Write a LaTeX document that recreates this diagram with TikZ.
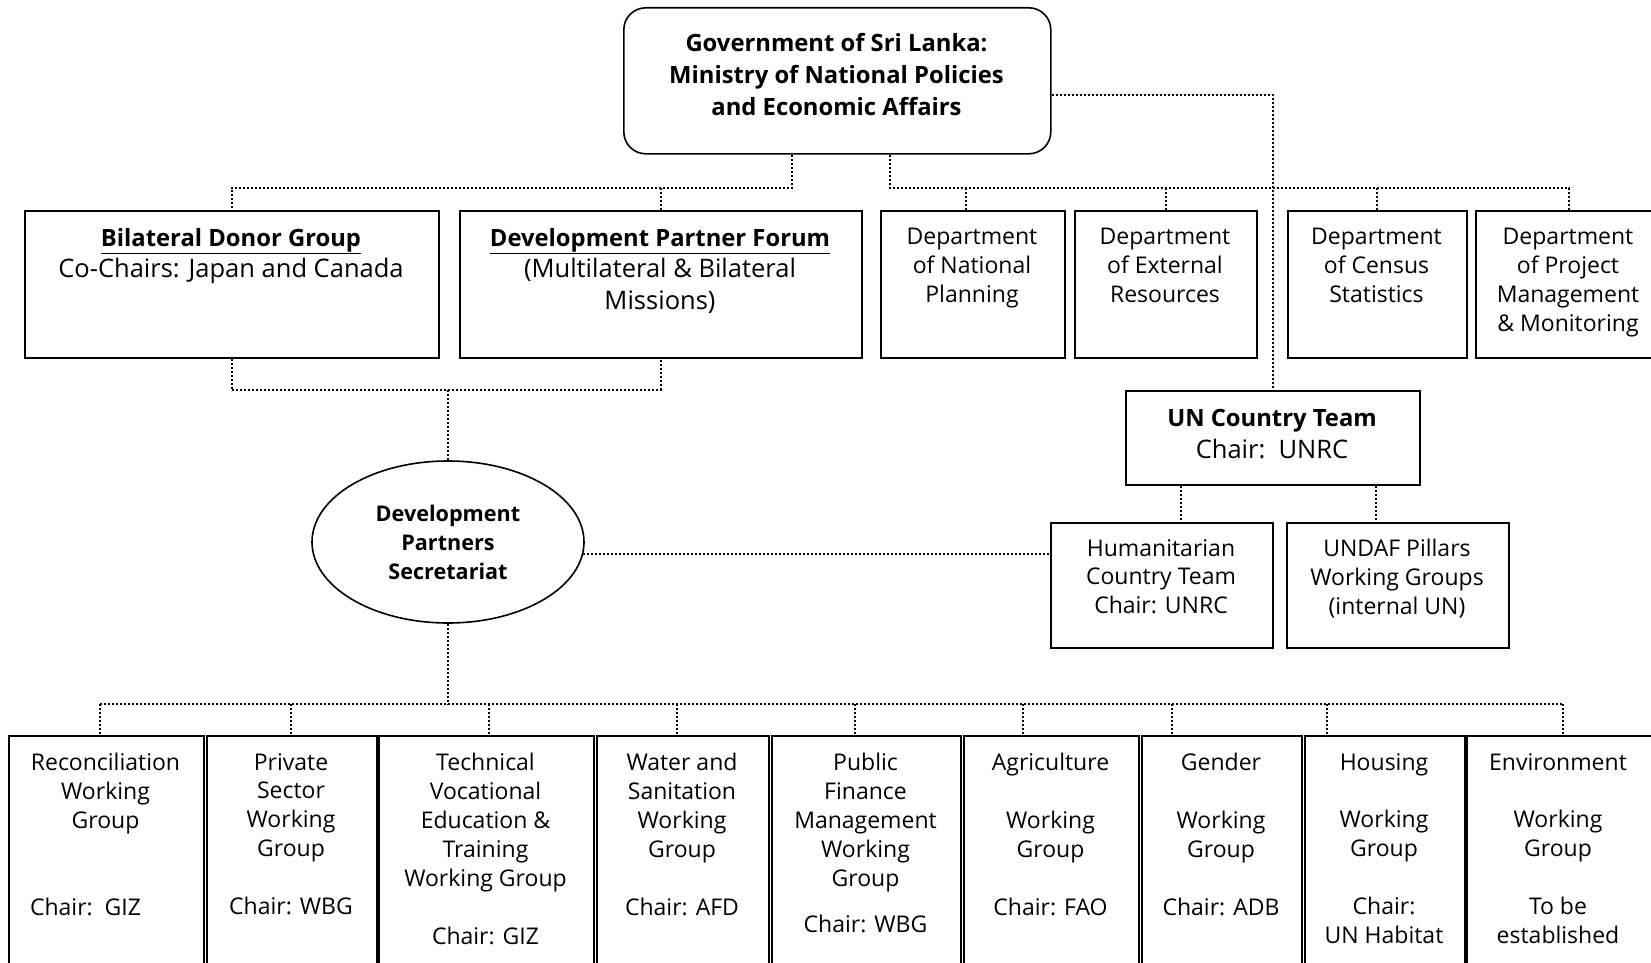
\documentclass[tikz,border=0pt]{standalone}
\usepackage{fontspec}
\setmainfont{Open Sans}
\usetikzlibrary{shapes.geometric}
\newcommand{\ttl}[1]{{\fontsize{23.8}{31.6}\selectfont\bfseries #1}}
\begin{document}
\begin{tikzpicture}[x=1pt,y=-1pt,
  box/.style={draw, line width=1.6pt, inner sep=0pt, anchor=north west},
  conn/.style={line width=2pt, dash pattern=on 2pt off 2pt},
  txt/.style={inner sep=0pt, align=center, anchor=north, font=\fontsize{23}{28.9}\selectfont, execute at begin node=\strut},
  big/.style={font=\fontsize{25.5}{31.6}\selectfont},
  bigb/.style={font=\fontsize{23.8}{32}\selectfont\bfseries},
]
\useasboundingbox (0,0) rectangle (1651,963);

% top
\node[box, rounded corners=22pt, minimum width=427pt, minimum height=146pt] (gov) at (623,7) {};
\node[txt, bigb] (govt) at (836.5,33) {Government of Sri Lanka:\\Ministry of National Policies\\and Economic Affairs};

% row 2
\node[box, minimum width=414pt, minimum height=147pt] (bdg) at (24,210) {};
\node[box, minimum width=402pt, minimum height=147pt] (dpf) at (459,210) {};
\node[box, minimum width=184pt, minimum height=147pt] (dnp) at (880,210) {};
\node[box, minimum width=182pt, minimum height=147pt] (der) at (1074,210) {};
\node[box, minimum width=179pt, minimum height=147pt] (dcs) at (1287,210) {};
\node[box, minimum width=186pt, minimum height=147pt] (dpm) at (1475,210) {};
\node[txt, big] (bdgt) at (231,228) {\underline{\ttl{Bilateral Donor Group}}\\Co-Chairs: Japan and Canada};
\node[txt, big] (dpft) at (660,228) {\underline{\ttl{Development Partner Forum}}\\(Multilateral \& Bilateral\\Missions)};
\node[txt] (dnpt) at (972,228) {Department\\of National\\Planning};
\node[txt] (dert) at (1165,228) {Department\\of External\\Resources};
\node[txt] (dcst) at (1376.5,228) {Department\\of Census\\Statistics};
\node[txt] (dpmt) at (1568,228) {Department\\of Project\\Management\\\& Monitoring};

% UN
\node[box, minimum width=294pt, minimum height=94pt] (unct) at (1125,390) {};
\node[txt, big] (unctt) at (1272,409) {\ttl{UN Country Team}\\Chair:\ \ UNRC};
\node[box, minimum width=222pt, minimum height=125pt] (hct) at (1050,522) {};
\node[box, minimum width=222pt, minimum height=125pt] (undaf) at (1286,522) {};
\node[txt] (hctt) at (1161,539) {Humanitarian\\Country Team\\Chair: UNRC};
\node[txt] (undaft) at (1397,539) {UNDAF Pillars\\Working Groups\\(internal UN)};

% ellipse
\node[draw, ellipse, line width=1.6pt, minimum width=272pt, minimum height=162pt, inner sep=0pt, align=center, font=\fontsize{21.6}{29}\selectfont\bfseries] (dps) at (448,542) {Development\\Partners\\Secretariat};

% bottom boxes
\node[box, minimum width=195pt, minimum height=240pt] (w1) at (8,735) {};
\node[box, minimum width=170pt, minimum height=240pt] (w2) at (206,735) {};
\node[box, minimum width=215pt, minimum height=240pt] (w3) at (378,735) {};
\node[box, minimum width=172pt, minimum height=240pt] (w4) at (596,735) {};
\node[box, minimum width=189pt, minimum height=240pt] (w5) at (771,735) {};
\node[box, minimum width=175pt, minimum height=240pt] (w6) at (963,735) {};
\node[box, minimum width=160pt, minimum height=240pt] (w7) at (1141,735) {};
\node[box, minimum width=160pt, minimum height=240pt] (w8) at (1304,735) {};
\node[box, minimum width=190pt, minimum height=240pt] (w9) at (1466,735) {};

\node[txt] (t1) at (105.5,753) {Reconciliation\\Working\\Group\\~\\~\\Chair:\ \ GIZ\hspace*{40pt}};
\node[txt] (t2) at (291,753) {Private\\Sector\\Working\\Group\\~\\Chair: WBG};
\node[txt] (t3) at (485.5,753) {Technical\\Vocational\\Education \&\\Training\\Working Group\\~\\Chair: GIZ};
\node[txt] (t4) at (682,753) {Water and\\Sanitation\\Working\\Group\\~\\Chair: AFD};
\node[txt] (t5) at (865.5,753) {Public\\Finance\\Management\\Working\\Group\\[17pt]Chair: WBG};
\node[txt] (t6) at (1050.5,753) {Agriculture\\~\\Working\\Group\\~\\Chair: FAO};
\node[txt] (t7) at (1221,753) {Gender\\~\\Working\\Group\\~\\Chair: ADB};
\node[txt] (t8) at (1384,753) {Housing\\~\\Working\\Group\\~\\Chair:\\UN Habitat};
\node[txt] (t9) at (1558,753) {Environment\\~\\Working\\Group\\~\\To be\\established};

% connectors top
\coordinate (jA) at (792,188);
\coordinate (jB) at (890,188);
\draw[conn] (gov.south -| jA) -- (jA) -| (bdg.north);
\draw[conn] (jA -| dpf.north) -- (dpf.north);
\draw[conn] (gov.south -| jB) -- (jB) -| (dpm.north);
\coordinate (dA) at ([xshift=-7pt]dnp.north);
\draw[conn] (dA |- jB) -- (dA);
\draw[conn] (der.north |- jB) -- (der.north);
\draw[conn] (dcs.north |- jB) -- (dcs.north);
\draw[conn] ([yshift=-14pt]gov.east) -| (unct.north);

% to secretariat
\coordinate (jD) at (448,390);
\draw[conn] (bdg.south) |- (dpf.south |- jD) -- (dpf.south);
\draw[conn] (jD) -- (dps.north);
\draw[conn] (dps.-5) -- (dps.-5 -| hct.west);

% UN subgroups
\coordinate (uA) at ([xshift=-92pt]unct.south);
\coordinate (uB) at ([xshift=103pt]unct.south);
\draw[conn] (uA) -- (uA |- hct.north);
\draw[conn] (uB) -- (uB |- undaf.north);

% bottom bus
\coordinate (jE) at (448,704);
\draw[conn] (dps.south) -- (jE);
\foreach \i/\x in {1/100, 2/291, 3/489, 4/677, 5/855, 6/1023, 7/1172, 8/1327, 9/1563}{
  \coordinate (d\i) at (\x,704);
  \draw[conn] (d\i) -- (d\i |- w\i.north);
}
\draw[conn] (d1) -- (d9);
\end{tikzpicture}
\end{document}
